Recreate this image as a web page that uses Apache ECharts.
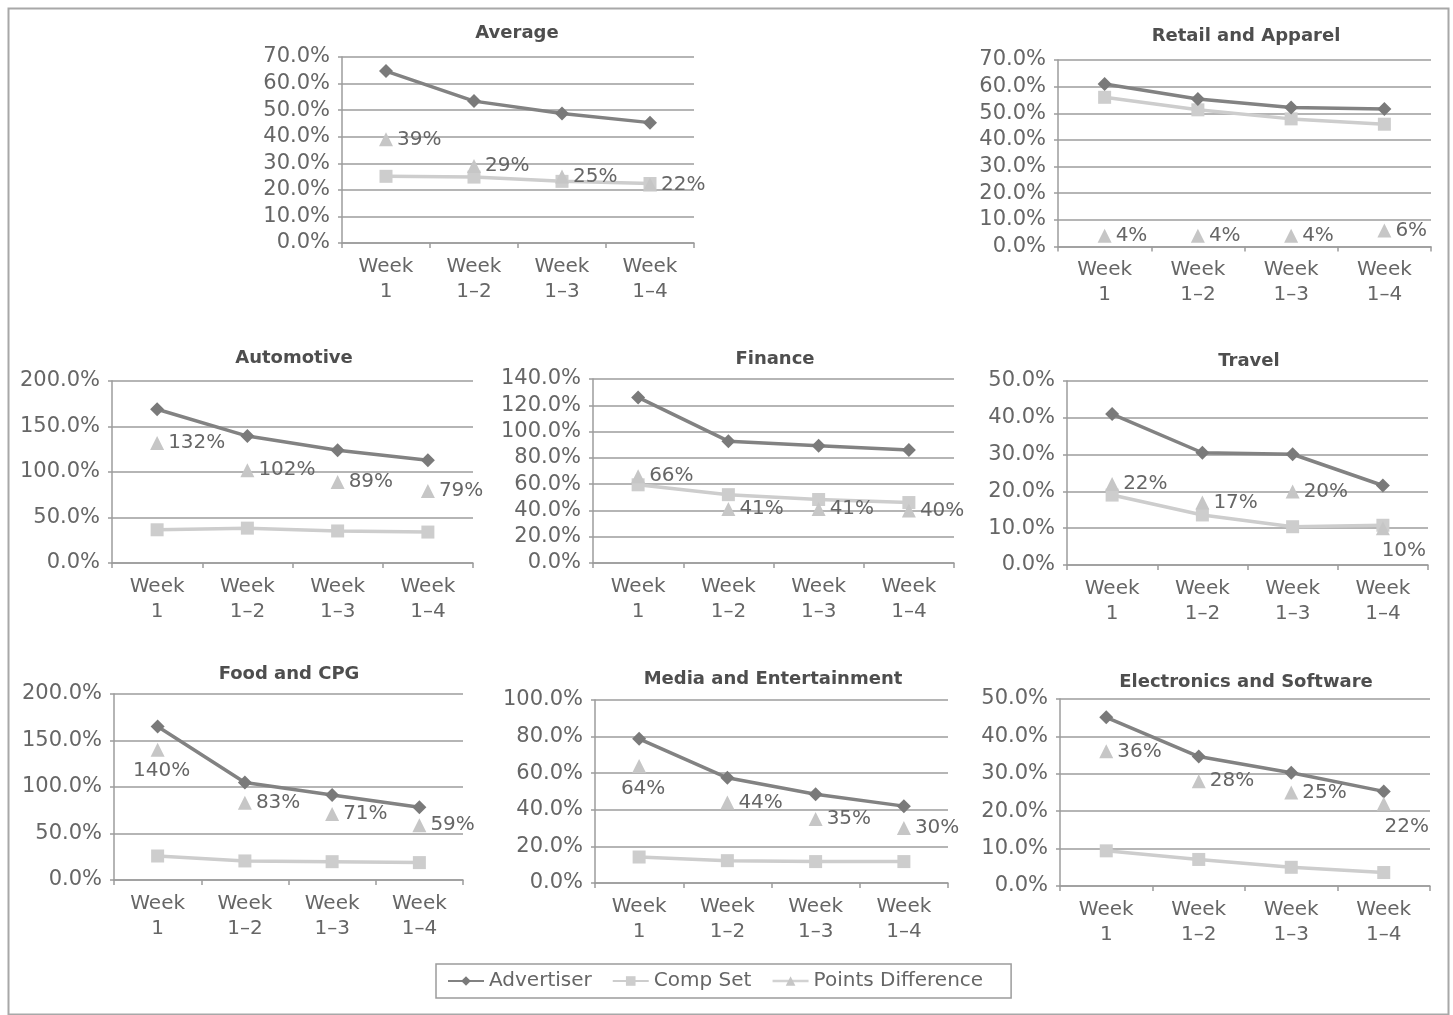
<!DOCTYPE html>
<html>
<head>
<meta charset="utf-8">
<title>Advertiser vs. Comp Set by Vertical</title>
<script src="https://cdn.jsdelivr.net/npm/echarts@6/dist/echarts.min.js"></script>
<style>
  html, body { margin: 0; padding: 0; background: #ffffff; }
  #chart { width: 1453px; height: 1015px; }
</style>
</head>
<body>
<div id="chart"></div>
<script>
// ---- data ----
const weeks = ['Week\n1', 'Week\n1\u20132', 'Week\n1\u20133', 'Week\n1\u20134'];
const seriesNames = ['Advertiser', 'Comp Set', 'Points Difference'];
const panelTitles = ['Average', 'Retail and Apparel', 'Automotive', 'Finance',
  'Travel', 'Food and CPG', 'Media and Entertainment', 'Electronics and Software'];

const averageAdvertiser = [64.7, 53.4, 48.7, 45.3];
const averageCompSet = [25.1, 24.8, 23.2, 22.4];
const averageDifference = [39, 29, 25, 22];

const retailAdvertiser = [61.0, 55.4, 52.2, 51.6];
const retailCompSet = [56.0, 51.3, 47.9, 45.9];
const retailDifference = [4, 4, 4, 6];

const automotiveAdvertiser = [169, 139.5, 124, 113];
const automotiveCompSet = [36.5, 38.3, 35.2, 34.0];
const automotiveDifference = [132, 102, 89, 79];

const financeAdvertiser = [126, 92.7, 89.2, 86.0];
const financeCompSet = [59.5, 52.0, 48.3, 46.0];
const financeDifference = [66, 41, 41, 40];

const travelAdvertiser = [41.0, 30.5, 30.1, 21.6];
const travelCompSet = [19.0, 13.6, 10.4, 10.8];
const travelDifference = [22, 17, 20, 10];

const foodAdvertiser = [165, 104.8, 91.5, 78.3];
const foodCompSet = [25.8, 20.5, 19.7, 18.7];
const foodDifference = [140, 83, 71, 59];

const mediaAdvertiser = [78.8, 57.5, 48.5, 42.0];
const mediaCompSet = [14.2, 12.2, 11.7, 11.7];
const mediaDifference = [64, 44, 35, 30];

const electronicsAdvertiser = [45.1, 34.6, 30.3, 25.3];
const electronicsCompSet = [9.4, 7.1, 5.0, 3.6];
const electronicsDifference = [36, 28, 25, 22];

// y axis range and step of each panel
const axisMax = [70, 70, 200, 140, 50, 200, 100, 50];
const axisStep = [10, 10, 50, 20, 10, 50, 20, 10];

const panelData = [
  [averageAdvertiser, averageCompSet, averageDifference],
  [retailAdvertiser, retailCompSet, retailDifference],
  [automotiveAdvertiser, automotiveCompSet, automotiveDifference],
  [financeAdvertiser, financeCompSet, financeDifference],
  [travelAdvertiser, travelCompSet, travelDifference],
  [foodAdvertiser, foodCompSet, foodDifference],
  [mediaAdvertiser, mediaCompSet, mediaDifference],
  [electronicsAdvertiser, electronicsCompSet, electronicsDifference]
];

// ---- layout ----
// plot boxes: [left, right, top, bottom] in pixels
const plotBoxes = [
  [342, 694, 57, 243],
  [1058, 1431, 60, 246.5],
  [112, 473, 381, 563],
  [593, 954, 379, 563],
  [1067, 1428, 381, 565],
  [114, 463, 694, 880],
  [595, 948, 700, 883],
  [1060, 1430, 699, 886]
];
// title centres [x, y]
const titleCentres = [
  [517, 33], [1246, 36], [294, 358], [775, 359],
  [1249, 361], [289, 674], [773, 679], [1246, 682]
];
// difference labels that sit under their marker: panel -> point -> [dx, gap]
const labelsBelow = {
  4: { 3: [21, 6] },
  5: { 0: [4, 4] },
  6: { 0: [4, 6] },
  7: { 3: [23, 6] }
};

const FONT = 'DejaVu Sans';
const TEXT = '#666666';
const GRID = '#9c9c9c';
const ADV = '#828282';
const ADV_MARK = '#7a7a7a';
const COMP = '#cdcdcd';
const DIFF = '#c6c6c6';
const TRI = 14;

const grid = [], xAxis = [], yAxis = [], title = [], series = [];

plotBoxes.forEach((b, i) => {
  grid.push({ left: b[0], top: b[2], width: b[1] - b[0], height: b[3] - b[2], containLabel: false });

  xAxis.push({
    type: 'category', gridIndex: i, data: weeks, boundaryGap: true,
    axisLine: { show: true, lineStyle: { color: GRID, width: 1.5 } },
    axisTick: { show: true, length: 5, lineStyle: { color: GRID, width: 1.5 } },
    axisLabel: { interval: 0, fontFamily: FONT, fontSize: 20, lineHeight: 25, color: TEXT, margin: 11 },
    splitLine: { show: false }
  });

  yAxis.push({
    type: 'value', gridIndex: i, min: 0, max: axisMax[i], interval: axisStep[i],
    axisLine: { show: true, lineStyle: { color: GRID, width: 1.5 } },
    axisTick: { show: true, length: 4, lineStyle: { color: GRID, width: 1.5 } },
    axisLabel: { fontFamily: FONT, fontSize: 21, color: TEXT, margin: 12,
      formatter: v => v.toFixed(1) + '%' },
    splitLine: { show: true, lineStyle: { color: GRID, width: 1.5 } }
  });

  title.push({
    text: panelTitles[i], left: titleCentres[i][0], top: titleCentres[i][1] - 9,
    textAlign: 'center', padding: 0,
    textStyle: { fontFamily: FONT, fontSize: 18, fontWeight: 'bold', color: '#4e4e4e' }
  });

  const [adv, comp, diff] = panelData[i];

  series.push({
    name: seriesNames[0], type: 'line', xAxisIndex: i, yAxisIndex: i, data: adv,
    symbol: 'diamond', symbolSize: 14, z: 3,
    lineStyle: { color: ADV, width: 3.5 },
    itemStyle: { color: ADV_MARK },
    emphasis: { disabled: true }
  });

  series.push({
    name: seriesNames[1], type: 'line', xAxisIndex: i, yAxisIndex: i, data: comp,
    symbol: 'rect', symbolSize: 13, z: 2,
    lineStyle: { color: COMP, width: 3.5 },
    itemStyle: { color: COMP },
    emphasis: { disabled: true }
  });

  const below = labelsBelow[i] || {};
  series.push({
    name: seriesNames[2], type: 'line', xAxisIndex: i, yAxisIndex: i, z: 4,
    data: diff.map((v, k) => {
      if (!below[k]) return v;
      return { value: v, label: {
        position: [TRI / 2 + below[k][0], TRI + below[k][1]],
        align: 'center', verticalAlign: 'top'
      } };
    }),
    symbol: 'triangle', symbolSize: TRI,
    lineStyle: { width: 0, opacity: 0 },
    itemStyle: { color: DIFF },
    label: {
      show: true, position: 'right', distance: 4,
      fontFamily: FONT, fontSize: 20, color: TEXT,
      formatter: p => Math.round(p.value) + '%'
    },
    labelLayout: { hideOverlap: false },
    emphasis: { disabled: true }
  });
});

const option = {
  backgroundColor: '#ffffff',
  animation: false,
  title, grid, xAxis, yAxis, series,
  legend: {
    left: 436, top: 964, orient: 'horizontal',
    padding: [7, 28, 7, 11], itemGap: 20, itemWidth: 36, itemHeight: 12,
    borderColor: '#9c9c9c', borderWidth: 1.5,
    textStyle: { fontFamily: FONT, fontSize: 20, color: TEXT },
    selectedMode: false,
    data: [
      { name: 'Advertiser' },
      { name: 'Comp Set' },
      { name: 'Points Difference', lineStyle: { width: 2.5, opacity: 1, color: '#d2d2d2' } }
    ]
  },
  graphic: [{
    type: 'rect', left: 6, top: 6, silent: true, z: -1,
    shape: { width: 1440, height: 1006 },
    style: { fill: 'none', stroke: '#a8a8a8', lineWidth: 2 }
  }]
};

const chart = echarts.init(document.getElementById('chart'), null, { renderer: 'canvas' });
chart.setOption(option);
</script>
</body>
</html>
